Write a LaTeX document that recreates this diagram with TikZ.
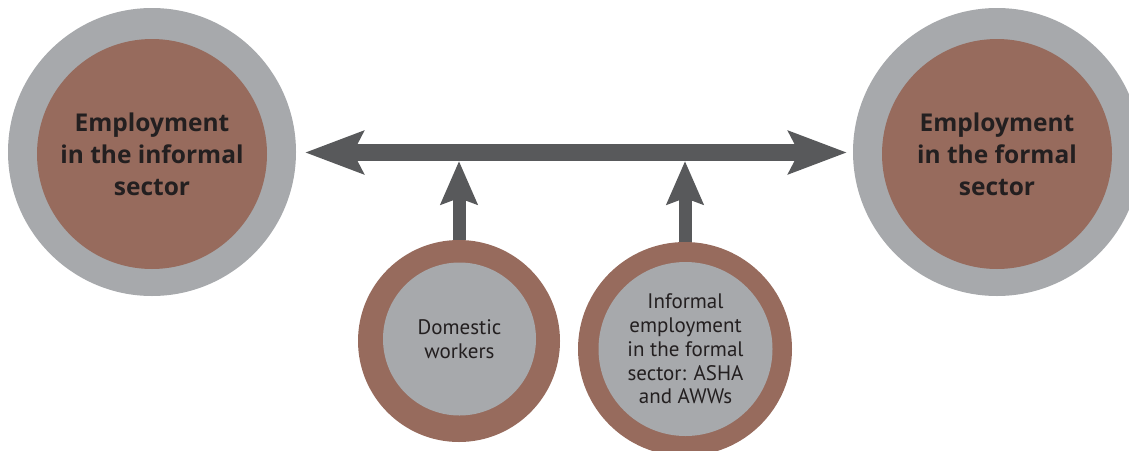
\documentclass[tikz,border=0pt]{standalone}
\usepackage{fontspec}
\setmainfont{PT Sans}
\newfontfamily\headfont{Open Sans}
\usetikzlibrary{arrows.meta}
\definecolor{ringgrey}{HTML}{A7A9AC}
\definecolor{brownfill}{HTML}{976B5D}
\definecolor{arrowgrey}{HTML}{58595B}
\definecolor{textdark}{HTML}{231F20}
\tikzset{
  disc/.style={circle, inner sep=0pt, minimum size=#1, draw=none},
  bigtext/.style={text=textdark, align=center, font=\headfont\fontsize{24.5}{32}\selectfont\bfseries},
  smalltext/.style={text=textdark, align=center, font=\fontsize{21}{23.8}\selectfont},
  mainarrow/.style={draw=arrowgrey, line width=17pt,
    {Stealth[length=58pt, width=42pt, inset=10pt, fill=arrowgrey]}-{Stealth[length=58pt, width=42pt, inset=10pt, fill=arrowgrey]}},
  feedarrow/.style={draw=arrowgrey, line width=13pt,
    -{Stealth[length=43pt, width=36pt, inset=6pt, fill=arrowgrey]}},
}
\begin{document}
\begin{tikzpicture}[x=1pt, y=-1pt]
\clip (0,0) rectangle (1129,450);
% big circles
\node[disc=288pt, fill=ringgrey] (Lo) at (152,152) {};
\node[disc=230pt, fill=brownfill, bigtext] (Li) at (152,154) {Employment\\in the informal\\sector};
\node[disc=288pt, fill=ringgrey] (Ro) at (997,152) {};
\node[disc=230pt, fill=brownfill, bigtext] (Ri) at (997,154) {Employment\\in the formal\\sector};
% small circles
\node[disc=202pt, fill=brownfill] (Ao) at (459,341) {};
\node[disc=153pt, fill=ringgrey, smalltext] (Ai) at (459.5,339) {Domestic\\workers};
\node[disc=214pt, fill=brownfill] (Bo) at (685,349) {};
\node[disc=174pt, fill=ringgrey, smalltext] (Bi) at (685.5,349) {Informal\\employment\\in the formal\\sector: ASHA\\and AWWs};
% arrow ends
\coordinate (hl) at (305,152.5);
\coordinate (hr) at (847,152.5);
\coordinate (ja) at (459,161);
\coordinate (jb) at (685,161);
\draw[mainarrow] (hl) -- (hr);
\draw[feedarrow] (Ao.north) -- (ja);
\draw[feedarrow] (Bo.north) -- (jb);
\end{tikzpicture}
\end{document}
